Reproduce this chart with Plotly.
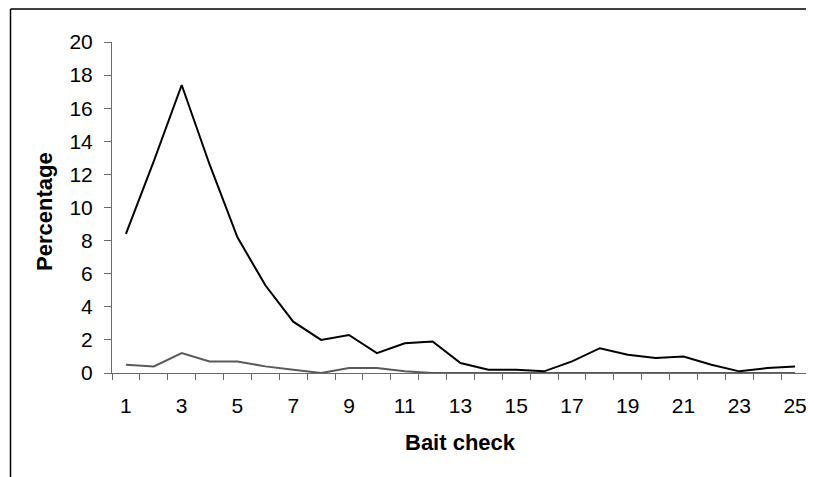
import plotly.graph_objects as go

bait_check = list(range(1, 26))
series_a = [8.4, 12.8, 17.4, 12.6, 8.2, 5.3, 3.1, 2.0, 2.3, 1.2, 1.8, 1.9,
            0.6, 0.2, 0.2, 0.1, 0.7, 1.5, 1.1, 0.9, 1.0, 0.5, 0.1, 0.3, 0.4]
series_b = [0.5, 0.4, 1.2, 0.7, 0.7, 0.4, 0.2, 0.0, 0.3, 0.3, 0.1, 0.0,
            0.0, 0.0, 0.0, 0.0, 0.0, 0.0, 0.0, 0.0, 0.0, 0.0, 0.0, 0.0, 0.0]
x_tick_labels = [str(v) for v in range(1, 26, 2)]
y_ticks = list(range(0, 21, 2))

FONT = "Liberation Sans, Arial, sans-serif"

# page body has an 8px margin: figure is sized/shifted to compensate
PW, PH = 697, 331  # plot area size
TOP = 34
fig = go.Figure()
fig.add_trace(go.Scatter(x=bait_check, y=series_b, mode="lines",
                         line=dict(color="#5a5a5a", width=2), showlegend=False))
fig.add_trace(go.Scatter(x=bait_check, y=series_a, mode="lines",
                         line=dict(color="#000000", width=2), showlegend=False))

top_border_y = 1 + (TOP - 0.9) / PH

fig.update_layout(
    width=806, height=469,
    margin=dict(l=104, r=5, t=TOP, b=104, autoexpand=False),
    paper_bgcolor="white", plot_bgcolor="white",
    font=dict(family=FONT, size=21, color="black"),
    xaxis=dict(
        range=[0.5, 25.5], showgrid=False, zeroline=False,
        showline=True, linecolor="#6a6a6a", linewidth=1,
        tickmode="array", tickvals=list(range(1, 26, 2)), ticktext=x_tick_labels,
        ticks="", ticklabelstandoff=14,
        minor=dict(tickmode="array", tickvals=[i + 0.5 for i in range(0, 26)],
                   ticks="outside", ticklen=6, tickcolor="#6a6a6a", tickwidth=1,
                   showgrid=False),
        tickfont=dict(size=21),
    ),
    yaxis=dict(
        range=[0, 20], showgrid=False, zeroline=False,
        showline=True, linecolor="#6a6a6a", linewidth=1,
        tickmode="array", tickvals=y_ticks,
        ticks="outside", ticklen=7, tickcolor="#6a6a6a", tickwidth=1,
        ticklabelstandoff=7,
        tickfont=dict(size=21),
    ),
    annotations=[
        dict(text="<b>Bait check</b>", xref="paper", yref="paper",
             x=0.5, y=-(442.5 - 373) / PH, xanchor="center", yanchor="middle",
             showarrow=False, font=dict(size=22)),
        dict(text="<b>Percentage</b>", xref="paper", yref="paper",
             x=-(112 - 45) / PW, y=(373 - 212) / PH, xanchor="center", yanchor="middle",
             textangle=-90, showarrow=False, font=dict(size=22)),
    ],
    shapes=[
        dict(type="line", xref="paper", yref="paper",
             x0=-(112 - 10.5) / PW, x1=-(112 - 10.5) / PW,
             y0=top_border_y, y1=(373 - 480) / PH,
             line=dict(color="black", width=1.5)),
        dict(type="line", xref="paper", yref="paper",
             x0=-(112 - 10.5) / PW, x1=(820 - 112) / PW,
             y0=top_border_y, y1=top_border_y,
             line=dict(color="black", width=1.5)),
    ],
)

fig.write_html("out.html")
